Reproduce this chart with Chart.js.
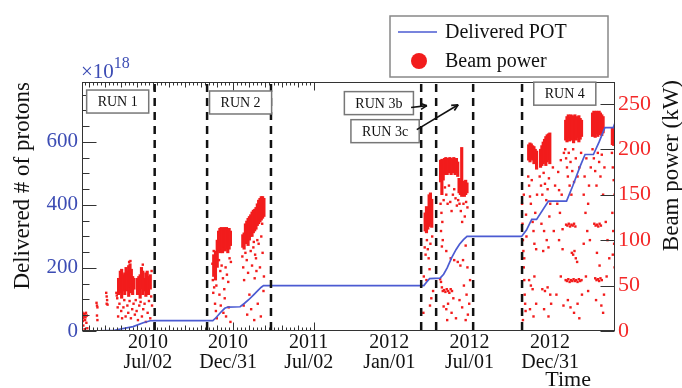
<!DOCTYPE html>
<html>
<head>
<meta charset="utf-8">
<script src="https://cdn.jsdelivr.net/npm/chart.js@4.4.1/dist/chart.umd.min.js"></script>
<style>
html, body { margin: 0; padding: 0; background: #fff; }
canvas { display: block; }
</style>
</head>
<body>
<canvas id="pot" width="682" height="388"></canvas>
<script>
// x values are days counted from 2010-01-01
const tickDays = [182, 364, 547, 730, 912, 1095]
const tickDates = [["2010","Jul/02"], ["2010","Dec/31"], ["2011","Jul/02"], ["2012","Jan/01"], ["2012","Jul/01"], ["2012","Dec/31"]]
const potTicks = [0, 200, 400, 600]
const powerTicks = [0, 50, 100, 150, 200, 250]

// accumulated protons on target, units of 1e18
const potDay = [21, 60, 95, 100, 137, 160, 176, 186, 318, 325, 335, 345, 352, 380, 390, 400, 410, 420, 428, 433,
  797, 804, 810, 834, 842, 850, 860, 870, 878, 887, 895,
  1019, 1030, 1042, 1053, 1080, 1121, 1135, 1152, 1163, 1182, 1195, 1208, 1227, 1231]
const potValue = [0, 0.5, 2, 4, 14, 26, 32.5, 33, 33, 42, 58, 72, 76, 77, 88, 100, 114, 128, 139, 144,
  144, 156, 166, 168, 180, 200, 232, 258, 275, 290, 300,
  300, 320, 354, 354, 412, 412, 460, 523, 560, 560, 600, 645, 645, 661]

// beam power per spill [day, kW]
const powerRun1 = [[22,20],[23,17],[24,14],[25,19],[26,16],[27,18],[28,12],[29,15],[30,20],[31,9],[32,17],[33,3],[24,6],[27,2],[23,11],
  [54,31],[55,28],[56,26],[55,17],[56,12],[76,42],[77,38],[78,34],[77,30],[79,29],
  [99,42],[100,39],[101,36],[102,26],[103,16],[106,30],[110,22],[112,14],[115,26],[117,34],[120,16],[124,28],[126,20],[129,33],
  [132,14],[135,24],[138,30],[141,18],[143,34],[145,22],[148,12],[151,28],[154,32],[157,16],[160,24],[163,30],[166,10],
  [170,20],[173,33],[176,14],[180,28],[178,38],[179,66],[128,76],[131,77],[159,73]]
const powerRun2 = [[319,42],[321,48],[318,56],[322,66],[326,50],[323,30],[325,22],[327,14],[320,88],[329,96],[317,74],
  [332,78],[335,66],[338,72],[341,58],[344,46],[347,70],[350,62],[353,54],[356,80],[359,76],[336,28],[342,20],[348,16],
  [354,26],[358,10],[345,36],[333,40],
  [385,82],[387,70],[389,56],[392,86],[395,78],[398,64],[401,40],[404,88],[407,72],[410,92],[413,58],[416,80],[419,100],
  [422,96],[425,70],[428,104],[431,86],[434,60],[388,28],[396,18],[405,24],[412,12],[420,30],[427,16],[433,44],
  [408,110],[411,98],[414,84],[417,66],[430,118]]
const powerRun3 = [[797,60],[796,20],[799,92],[801,84],[803,56],[804,100],[806,90],[808,80],[810,68],[811,28],[812,96],
  [814,36],[816,104],[818,44],
  [835,140],[837,130],[839,120],[836,110],[840,100],[842,144],[845,158],[848,150],[851,140],[854,160],[857,142],[860,132],
  [863,150],[866,156],[869,146],[872,138],[875,144],[878,140],[881,132],[884,120],[887,140],[890,126],[893,142],[896,136],
  [834,57],[836,54],[838,48],[840,44],[843,45],[846,43],[849,46],[852,44],[855,42],[858,46],[861,44],
  [838,93],[848,88],[858,80],[866,78],[874,76],[880,72],[886,78],[892,94],[896,70],
  [842,27],[848,24],[852,30],[860,20],[870,14],[878,34],[884,26],[892,12],[897,18],[850,12],[864,36],[888,50],[894,40],
  [900,30],[902,56]]
const powerRun4 = [[1020,140],[1021,118],[1022,100],[1023,88],[1024,70],[1025,56],[1026,40],[1027,30],[1028,22],[1022,12],
  [1025,80],[1029,128],[1030,104],[1024,150],
  [1034,170],[1036,160],[1038,148],[1040,140],[1042,166],[1044,120],[1046,110],[1048,96],[1050,130],[1052,90],[1054,150],
  [1036,56],[1040,50],[1044,46],[1048,60],[1038,24],[1046,16],[1052,30],
  [1060,170],[1063,160],[1066,150],[1069,174],[1072,162],[1075,144],[1078,156],[1081,168],[1084,140],[1064,118],[1070,110],
  [1076,100],[1082,126],[1068,88],[1080,92],[1066,46],[1072,44],[1078,48],[1084,40],[1070,24],[1080,16],[1086,30],
  [1090,180],[1095,160],[1100,140],[1102,175],[1104,155],[1106,130],[1108,188],[1110,150],[1112,112],[1115,196],
  [1092,110],[1104,100],[1112,90],[1108,60],[1098,40],[1114,28],
  [1118,200],[1120,190],[1122,180],[1124,170],[1126,196],[1128,160],[1130,186],[1132,150],[1134,176],[1136,200],[1138,164],
  [1142,190],[1146,170],[1150,180],[1154,196],
  [1120,117],[1123,116],[1126,118],[1129,115],[1132,117],[1135,116],[1138,118],[1141,115],
  [1119,56],[1122,55],[1125,57],[1128,54],[1131,56],[1134,55],[1137,57],[1140,55],[1143,56],[1146,54],[1149,57],[1152,55],[1155,56],
  [1133,86],[1136,84],[1139,88],[1142,80],[1145,76],
  [1124,34],[1130,26],[1138,20],[1146,30],[1150,14],[1156,40],
  [1160,150],[1162,170],[1164,130],[1166,190],[1168,110],[1170,140],[1172,160],[1174,100],[1176,180],[1165,60],[1170,44],[1160,96],
  [1180,200],[1183,190],[1186,176],[1189,160],[1192,196],[1195,186],[1198,170],[1201,194],[1204,150],[1207,180],
  [1184,118],[1187,116],[1190,117],[1193,115],[1196,118],[1199,116],
  [1186,58],[1189,56],[1192,57],[1195,55],[1198,58],[1201,56],
  [1190,86],[1196,72],[1200,28],[1204,20],[1206,40],[1188,34],
  [1210,120],[1214,100],[1218,80],[1212,60],
  [1224,196],[1226,180],[1228,166],[1230,150],[1225,130],[1227,110],[1229,96],[1226,84],[1230,70]]

// days where spills pile up into a solid band [day, low kW, high kW]
const bandRun1 = [[104,40,58],[108,42,66],[111,36,68],[114,44,62],[118,40,64],[121,46,70],[124,44,66],[127,38,72],[130,48,74],
  [133,42,68],[136,40,60],[139,46,58],[147,40,58],[150,44,60],[153,36,62],[156,46,70],[159,40,66],[163,44,58],[166,38,64],
  [169,44,66],[172,40,60],[176,46,62]]
const bandRun2 = [[320,60,84],[324,56,88],[328,70,100],[331,88,110],[334,86,113],[337,90,114],[340,86,113],[343,92,114],
  [346,88,112],[349,90,114],[352,86,112],[355,90,113],[358,94,110],
  [386,92,106],[389,90,108],[392,96,118],[395,98,121],[398,94,124],[401,100,126],[404,104,128],[407,104,131],[410,108,133],
  [413,110,134],[416,112,136],[419,116,140],[422,118,144],[425,120,146],[428,122,148],[431,124,148],[434,126,146]]
const bandRun3 = [[800,110,130],[803,108,137],[806,112,136],[809,115,150],[812,118,152],[815,114,145],
  [835,164,188],[838,150,189],[841,166,189],[844,172,190],[847,174,191],[850,172,189],[853,174,190],[856,175,191],
  [859,172,190],[862,174,189],[865,176,191],[868,172,188],[871,174,190],[874,170,186],[877,152,168],[880,150,166],
  [883,148,202],[886,150,165],[889,148,164],[892,150,166],[895,152,163]]
const bandRun4 = [[1035,188,205],[1038,186,207],[1041,190,206],[1044,188,204],[1047,184,203],[1050,186,200],[1053,178,198],
  [1062,180,200],[1065,182,204],[1068,184,208],[1071,186,211],[1074,182,214],[1077,186,216],[1080,188,217],[1083,184,218],
  [1119,210,232],[1122,208,236],[1125,212,238],[1128,209,235],[1131,212,238],[1134,210,237],[1137,207,236],[1140,212,238],
  [1143,210,235],[1146,213,236],[1149,208,237],[1152,211,234],[1155,214,232],
  [1180,214,240],[1183,216,242],[1186,213,241],[1189,217,242],[1192,214,240],[1195,216,242],[1198,218,240],[1201,215,238],
  [1204,218,236],[1225,205,224],[1228,204,222],[1231,206,220]]

// run periods
const runEdges = [186, 305, 450, 791, 825, 909, 1020]
const runNames = ["RUN 1", "RUN 2", "RUN 3b", "RUN 3c", "RUN 4"]
const runNameDay = [102, 381, 695, 709, 1117]
const runNamePot = [728, 725, 723, 634, 753]
// [from day, from pot, to day, to pot]
const runArrows = [[768, 709, 804, 715], [781, 639, 875, 718]]

const serif = '"Liberation Serif", "Times New Roman", serif'
const blueLine = "#4b5bd2"
const blueText = "#3c4cb4"
const red = "#f21c1c"
const redText = "#f42828"

let powerPoints = powerRun1.concat(powerRun2, powerRun3, powerRun4).map(p => ({x: p[0], y: p[1]}))
let bandPoints = bandRun1.concat(bandRun2, bandRun3, bandRun4).map(b => ({x: b[0], y: [b[1], b[2]]}))
let potPoints = potDay.map((d, i) => ({x: d, y: potValue[i]}))

function line(ctx, x1, y1, x2, y2){
ctx.beginPath()
ctx.moveTo(x1, y1)
ctx.lineTo(x2, y2)
ctx.stroke()
}

const decor = {
id: "decor",
afterDraw(chart){
let ctx = chart.ctx
let a = chart.chartArea
let xs = chart.scales.x, ys = chart.scales.y, ys2 = chart.scales.y2
let L = Math.round(a.left) + 0.5, R = Math.round(a.right) - 0.5
let T = Math.round(a.top) + 0.5, B = Math.round(a.bottom) - 0.5

ctx.save()

// run boundaries
ctx.strokeStyle = "#111"
ctx.lineWidth = 2.5
ctx.setLineDash([8, 6])
runEdges.forEach(d => {
let px = xs.getPixelForValue(d)
line(ctx, px, a.top + 2, px, a.bottom)
})
ctx.setLineDash([])

// frame
ctx.strokeStyle = "#333"
ctx.lineWidth = 1
ctx.strokeRect(L, T, R - L, B - T)

// left axis ticks
for(let v = 0; v <= ys.max; v += 50){
let py = Math.round(ys.getPixelForValue(v)) + 0.5
let len = potTicks.includes(v) ? 14 : 7
line(ctx, L, py, L + len, py)
}
// right axis ticks
powerTicks.forEach(v => {
let py = Math.round(ys2.getPixelForValue(v)) + 0.5
line(ctx, R, py, R - 14, py)
})
// time axis ticks, bottom and top
let half = 182.5
let step = half / 20
let marks = []
for(let k = -20; k <= 40; k++){
let d = tickDays[0] + k * step
if(d < xs.min || d > xs.max) continue
let len = k % 20 === 0 ? 8 : (k % 4 === 0 ? 5 : 3)
marks.push([d, len])
}
marks.forEach(m => {
let px = Math.round(xs.getPixelForValue(m[0])) + 0.5
line(ctx, px, B, px, B - m[1])
line(ctx, px, T, px, T + m[1])
})

// run name boxes
ctx.font = "14px " + serif
ctx.textAlign = "center"
ctx.textBaseline = "middle"
runNames.forEach((name, i) => {
let cx = xs.getPixelForValue(runNameDay[i])
let cy = ys.getPixelForValue(runNamePot[i])
let w = ctx.measureText(name).width + 22
let h = 23
ctx.fillStyle = "#fff"
ctx.fillRect(cx - w / 2, cy - h / 2, w, h)
ctx.strokeStyle = "#777"
ctx.lineWidth = 1.5
ctx.strokeRect(cx - w / 2, cy - h / 2, w, h)
ctx.fillStyle = "#111"
ctx.fillText(name, cx, cy + 1)
})

// arrows
ctx.strokeStyle = "#111"
ctx.lineWidth = 1.6
runArrows.forEach(r => {
let x1 = xs.getPixelForValue(r[0]), y1 = ys.getPixelForValue(r[1])
let x2 = xs.getPixelForValue(r[2]), y2 = ys.getPixelForValue(r[3])
line(ctx, x1, y1, x2, y2)
let ang = Math.atan2(y2 - y1, x2 - x1)
line(ctx, x2, y2, x2 - 7 * Math.cos(ang - 0.45), y2 - 7 * Math.sin(ang - 0.45))
line(ctx, x2, y2, x2 - 7 * Math.cos(ang + 0.45), y2 - 7 * Math.sin(ang + 0.45))
})

// legend
let ds = chart.data.datasets
ctx.fillStyle = "#fff"
ctx.fillRect(390, 16, 218, 61)
ctx.strokeStyle = "#888"
ctx.lineWidth = 1.5
ctx.strokeRect(390, 16, 218, 61)
ctx.strokeStyle = blueLine
ctx.lineWidth = 1.7
line(ctx, 398, 32, 437, 32)
ctx.fillStyle = red
ctx.beginPath()
ctx.arc(419, 61, 8, 0, Math.PI * 2)
ctx.fill()
ctx.fillStyle = "#111"
ctx.font = "20px " + serif
ctx.textAlign = "left"
ctx.textBaseline = "alphabetic"
ctx.fillText(ds[0].label, 445, 38)
ctx.fillText(ds[1].label, 445, 67)

// axis titles
ctx.font = "23px " + serif
ctx.textBaseline = "middle"
ctx.textAlign = "right"
ctx.save()
ctx.translate(23, a.top)
ctx.rotate(-Math.PI / 2)
ctx.fillText("Delivered # of protons", 0, 0)
ctx.restore()
ctx.save()
ctx.translate(672, 80)
ctx.rotate(-Math.PI / 2)
ctx.fillText("Beam power (kW)", 0, 0)
ctx.restore()

ctx.font = "22px " + serif
ctx.textBaseline = "alphabetic"
ctx.fillText("Time", 591, 386)

// exponent of the left axis
ctx.textAlign = "left"
ctx.fillStyle = blueText
ctx.font = "21px " + serif
ctx.fillText("\u00d710", 81, 78)
let ew = ctx.measureText("\u00d710").width
ctx.font = "16px " + serif
ctx.fillText("18", 81 + ew, 68)

ctx.restore()
}
}

new Chart(document.getElementById("pot"), {
type: "scatter",
data: {
datasets: [
{
type: "line",
label: "Delivered POT",
data: potPoints,
yAxisID: "y",
borderColor: blueLine,
borderWidth: 1.7,
pointRadius: 0,
tension: 0,
fill: false,
order: 0
},
{
type: "scatter",
label: "Beam power",
data: powerPoints,
yAxisID: "y2",
pointStyle: "rect",
pointRadius: 1.7,
backgroundColor: red,
borderWidth: 0,
order: 1
},
{
type: "bar",
label: "Beam power",
data: bandPoints,
yAxisID: "y2",
backgroundColor: red,
barThickness: 2.5,
grouped: false,
order: 2
}
]
},
options: {
responsive: false,
animation: false,
events: [],
layout: {padding: {top: 82, left: 0, right: 0, bottom: 0}},
plugins: {legend: {display: false}, tooltip: {enabled: false}},
scales: {
x: {
type: "linear",
position: "bottom",
min: 21,
max: 1231,
offset: false,
grid: {display: false, drawTicks: false, offset: false},
border: {display: false},
afterBuildTicks: s => { s.ticks = tickDays.map(v => ({value: v})) },
afterFit: s => { s.height = 57 },
ticks: {
color: "#111",
font: {family: serif, size: 20, lineHeight: 1.0},
padding: 2,
labelOffset: -5,
maxRotation: 0,
autoSkip: false,
callback: (v, i) => tickDates[i]
}
},
y: {
type: "linear",
position: "left",
min: 0,
max: 790,
grid: {display: false, drawTicks: false},
border: {display: false},
afterBuildTicks: s => { s.ticks = potTicks.map(v => ({value: v})) },
afterFit: s => { s.width = 82 },
ticks: {color: blueText, font: {family: serif, size: 21}, padding: 4}
},
y2: {
type: "linear",
position: "right",
min: 0,
max: 274,
grid: {display: false, drawTicks: false},
border: {display: false},
afterBuildTicks: s => { s.ticks = powerTicks.map(v => ({value: v})) },
afterFit: s => { s.width = 67 },
ticks: {color: redText, font: {family: serif, size: 22}, padding: 3}
}
}
},
plugins: [decor]
})
</script>
</body>
</html>
